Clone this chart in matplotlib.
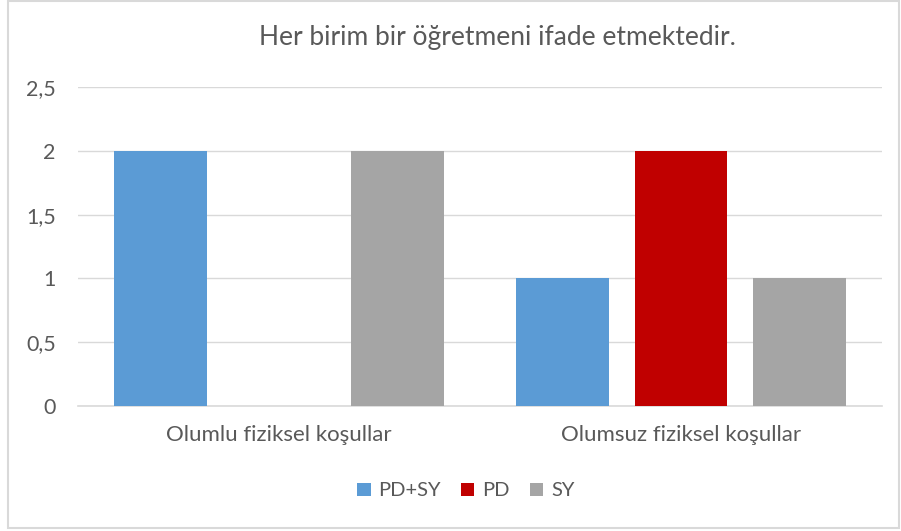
import matplotlib
matplotlib.use('Agg')
from matplotlib import pyplot as plt
from matplotlib.patches import Rectangle
import numpy as np

categories = ['Olumlu fiziksel koşullar', 'Olumsuz fiziksel koşullar']
series = ['PD+SY', 'PD', 'SY']
values = {
    'PD+SY': [2, 1],
    'PD': [0, 2],
    'SY': [2, 1],
}
colors = {'PD+SY': '#5B9BD5', 'PD': '#C00000', 'SY': '#A5A5A5'}
yticks = [0, 0.5, 1, 1.5, 2, 2.5]
ytick_labels = ['0', '0,5', '1', '1,5', '2', '2,5']

plt.rcParams['font.family'] = ['Lato', 'DejaVu Sans']
txt = '#595959'
grid = '#D9D9D9'

fig = plt.figure(figsize=(9.01, 5.31), dpi=100)
ax = fig.add_axes([78/901, 125/531, 804/901, 319/531])

x = np.arange(len(categories))
w = 0.231
step = 0.294
for i, s in enumerate(series):
    ax.bar(x + (i - 1) * step, values[s], width=w, color=colors[s], label=s, zorder=3)

ax.set_xlim(-0.5, 1.5)
ax.set_ylim(0, 2.5)
ax.set_yticks(yticks)
ax.set_yticklabels(ytick_labels, fontsize=15.5, color=txt)
ax.set_xticks(x)
ax.set_xticklabels(categories, fontsize=16, color=txt)
ax.tick_params(length=0)
ax.tick_params(axis='y', pad=16)
ax.tick_params(axis='x', pad=14)
ax.yaxis.grid(True, color=grid, lw=1, zorder=0)
for sp in ['top', 'right', 'left']:
    ax.spines[sp].set_visible(False)
ax.spines['bottom'].set_color(grid)
ax.spines['bottom'].set_linewidth(1.2)

fig.text(497/901, 1 - 38/531, 'Her birim bir öğretmeni ifade etmektedir.',
         ha='center', va='center', fontsize=19, color=txt)

leg = ax.legend(loc='center', bbox_to_anchor=(466/901, 1 - 491/531),
                bbox_transform=fig.transFigure, ncol=3, frameon=False,
                fontsize=14.5, handlelength=0.65, handleheight=0.65,
                handletextpad=0.4, columnspacing=1.0)
for t in leg.get_texts():
    t.set_color(txt)

fig.patches.append(Rectangle((8/901, 3/531), 891/901, 527/531, fill=False,
                             edgecolor=grid, lw=1.5, transform=fig.transFigure))

fig.savefig('out.png', dpi=100)
